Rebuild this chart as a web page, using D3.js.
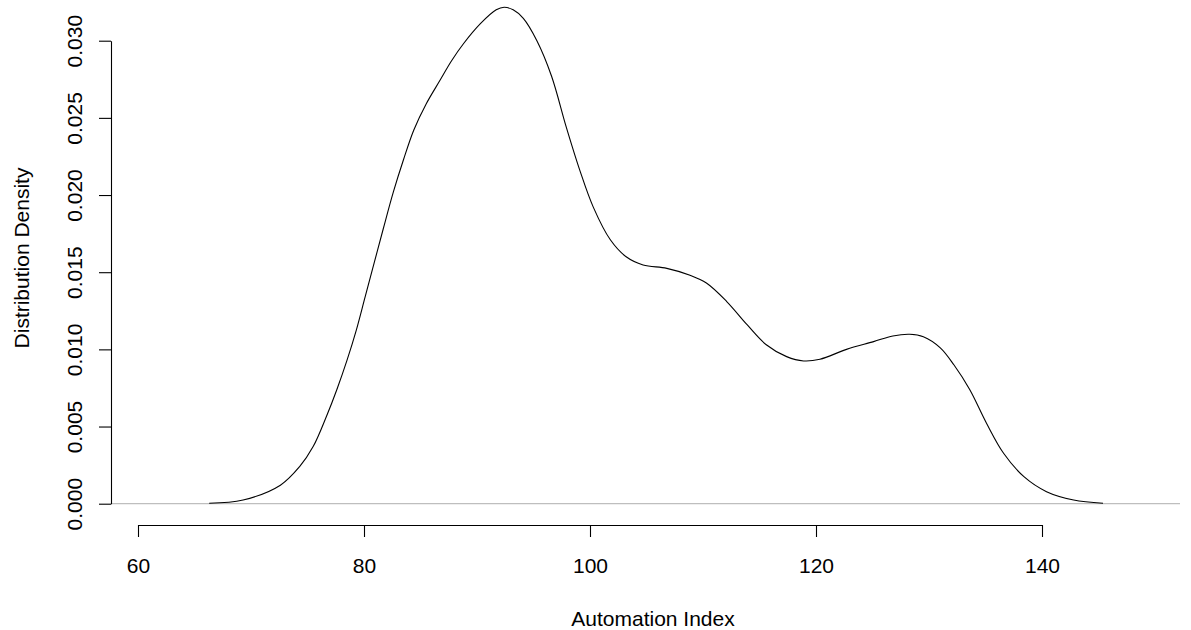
<!DOCTYPE html>
<html>
<head>
<meta charset="utf-8">
<script src="https://cdn.jsdelivr.net/npm/d3@7"></script>
<style>
  html, body { margin: 0; padding: 0; background: #fff; }
  svg { display: block; }
  text { font-family: "Liberation Sans", Arial, sans-serif; fill: #000; }
</style>
</head>
<body>
<svg id="chart" width="1191" height="630"></svg>
<script>
// ---- data ----
const automationIndex = [66.3, 69.3, 72.6, 74.3, 75.5, 76.7, 77.6, 78.5, 79.3, 80.1, 80.9, 81.7, 82.6, 83.5, 84.4,
  85.5, 86.7, 87.75, 88.8, 90.3, 91.7, 92.4, 93.2, 94.1, 95.3, 96.6, 97.9, 99.1, 100.3, 101.8, 103.2, 104.7,
  106.8, 108.85, 110.3, 112.1, 113.9, 115.6, 117.4, 118.9, 120.35, 122.7, 125.1, 126.8, 128.3, 129.5, 131.0,
  132.2, 133.6, 135.1, 136.6, 138.4, 140.4, 142.8, 145.4];
const density = [0.00003, 0.00024, 0.0012, 0.0024, 0.0037, 0.0057, 0.0074, 0.0093, 0.0112, 0.0134, 0.0156, 0.0178, 0.0202, 0.0223, 0.0242,
  0.0259, 0.0274, 0.0287, 0.0298, 0.0311, 0.0320, 0.03217, 0.0320, 0.03145, 0.0300, 0.0277, 0.0244, 0.0216, 0.0192, 0.0171, 0.0160, 0.01547,
  0.01525, 0.0148, 0.0143, 0.0131, 0.0116, 0.0103, 0.00953, 0.00925, 0.00936, 0.0100, 0.0105, 0.01087, 0.01098, 0.01082, 0.0101,
  0.0090, 0.0074, 0.0052, 0.00327, 0.00175, 0.00078, 0.00024, 0.00003];
const xTicks = [60, 80, 100, 120, 140];
const yTicks = [0.000, 0.005, 0.010, 0.015, 0.020, 0.025, 0.030];
const xLabel = "Automation Index";
const yLabel = "Distribution Density";

// ---- layout ----
const svg = d3.select("#chart");
const x = d3.scaleLinear().domain([60, 140]).range([138, 1042]);
const y = d3.scaleLinear().domain([0, 0.03]).range([503.7, 40.7]);
const plotLeft = 111, plotRight = 1180;
const fs = 21;

// zero line (gray)
svg.append("line")
  .attr("x1", plotLeft).attr("x2", plotRight)
  .attr("y1", y(0)).attr("y2", y(0))
  .attr("stroke", "#bebebe").attr("stroke-width", 1.3);

// density curve
const pts = automationIndex.map((v, i) => [v, density[i]]);
svg.append("path")
  .datum(pts)
  .attr("fill", "none")
  .attr("stroke", "#000")
  .attr("stroke-width", 1.1)
  .attr("d", d3.line().x(d => x(d[0])).y(d => y(d[1])).curve(d3.curveCatmullRom.alpha(0.5)));

// x axis
const xAxisG = svg.append("g").attr("transform", "translate(0,525)")
  .call(d3.axisBottom(x).tickValues(xTicks).tickSize(12).tickSizeOuter(0).tickFormat(d3.format("d")));
xAxisG.select(".domain").attr("stroke", "#000").attr("stroke-width", 1.1);
xAxisG.selectAll(".tick line").attr("stroke", "#000").attr("stroke-width", 1.1);
xAxisG.selectAll(".tick text")
  .attr("y", 0).attr("dy", null)
  .attr("transform", "translate(0,48)")
  .style("font-size", fs + "px")
  .style("font-family", "'Liberation Sans', Arial, sans-serif")
  .attr("fill", "#000");

// y axis
const yAxisG = svg.append("g").attr("transform", `translate(${plotLeft},0)`)
  .call(d3.axisLeft(y).tickValues(yTicks).tickSize(12).tickSizeOuter(0).tickFormat(d3.format(".3f")));
yAxisG.select(".domain").attr("stroke", "#000").attr("stroke-width", 1.1);
yAxisG.selectAll(".tick line").attr("stroke", "#000").attr("stroke-width", 1.1);
yAxisG.selectAll(".tick text")
  .attr("x", 0).attr("dy", null).attr("y", 0)
  .attr("text-anchor", "middle")
  .attr("transform", "translate(-29,0) rotate(-90)")
  .style("font-size", fs + "px")
  .style("font-family", "'Liberation Sans', Arial, sans-serif")
  .attr("fill", "#000");

// axis titles
svg.append("text")
  .attr("x", 653).attr("y", 626)
  .attr("text-anchor", "middle")
  .style("font-size", fs + "px")
  .text(xLabel);

svg.append("text")
  .attr("transform", "translate(29,258) rotate(-90)")
  .attr("text-anchor", "middle")
  .style("font-size", fs + "px")
  .text(yLabel);
</script>
</body>
</html>
